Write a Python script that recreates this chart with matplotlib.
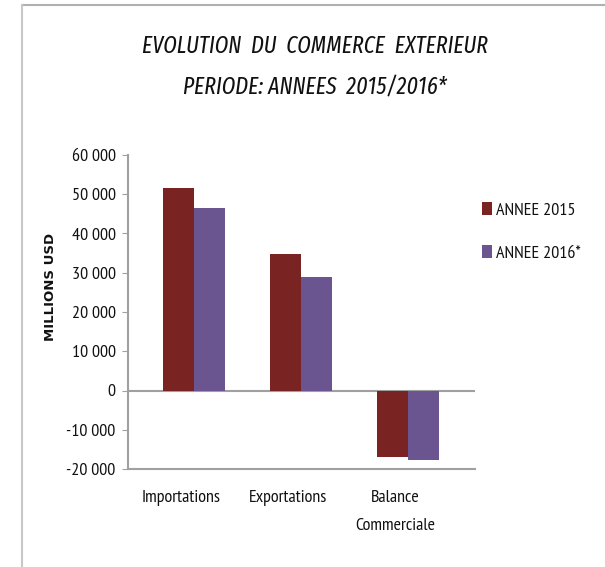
import numpy as np
import matplotlib.pyplot as plt
from matplotlib.lines import Line2D

categories = ['Importations', 'Exportations', 'Balance\nCommerciale']
annee_2015 = [51600, 34700, -16900]
annee_2016 = [46500, 28900, -17600]
series_names = ['ANNEE 2015', 'ANNEE 2016*']
y_ticks = [-20000, -10000, 0, 10000, 20000, 30000, 40000, 50000, 60000]
y_tick_labels = ['-20 000', '-10 000', '0', '10 000', '20 000', '30 000',
                 '40 000', '50 000', '60 000']

narrow = ['PT Sans Narrow', 'Carlito', 'DejaVu Sans']
title_font = ['Fira Sans Extra Condensed', 'Roboto Condensed', 'DejaVu Sans']
col_2015 = '#7a2323'
col_2016 = '#6a5590'
grey = '#a0a0a0'
ink = '#111111'

fig = plt.figure(figsize=(6.05, 5.67), dpi=100)

# frame lines around the picture (top and left)
fig.add_artist(Line2D([22 / 605, 1], [1 - 5 / 567] * 2, color='#b0b0b0', lw=1.5))
fig.add_artist(Line2D([22 / 605] * 2, [0, 1 - 5 / 567], color='#c8c8c8', lw=1.5))

ax = fig.add_axes([128 / 605, 1 - 469 / 567, 347 / 605, 314 / 567])

x = np.arange(len(categories))
w = 0.29
ax.bar(x - w / 2, annee_2015, w, color=col_2015, label=series_names[0])
ax.bar(x + w / 2, annee_2016, w, color=col_2016, label=series_names[1])

ax.set_xlim(-0.617, 2.626)
ax.set_ylim(-20000, 60000)
ax.axhline(0, color=grey, lw=1.5, zorder=0)

for s in ['top', 'right']:
    ax.spines[s].set_visible(False)
for s in ['left', 'bottom']:
    ax.spines[s].set_color(grey)
    ax.spines[s].set_linewidth(1.5)

ax.set_yticks(y_ticks)
ax.set_yticklabels(y_tick_labels, family=narrow, fontsize=13, color=ink)
ax.tick_params(axis='y', length=4, color=grey, pad=5)
# category labels sit a little left of the bar pairs, as in the original
ax.set_xticks(x - 0.12)
ax.set_xticklabels(categories, family=narrow, fontsize=13, color=ink)
for lbl in ax.get_xticklabels():
    lbl.set_linespacing(2.05)
ax.tick_params(axis='x', length=0, pad=15)

ax.set_ylabel('MILLIONS USD', family=['DejaVu Sans'],
              fontweight='bold', fontsize=9.5, color=ink)
ax.yaxis.set_label_coords(-0.205, 0.58)

fig.text(315 / 605, 1 - 46 / 567, 'EVOLUTION  DU  COMMERCE  EXTERIEUR', ha='center', va='center',
         family=title_font, style='italic', fontsize=17, color=ink)
fig.text(315 / 605, 1 - 88 / 567, 'PERIODE: ANNEES  2015/2016*', ha='center', va='center',
         family=title_font, style='italic', fontsize=17, color=ink)

leg = fig.legend(loc='upper left', bbox_to_anchor=(466 / 605, 1 - 186 / 567),
                 frameon=False, prop={'family': narrow, 'size': 13},
                 handlelength=0.55, handleheight=0.7, handletextpad=0.2,
                 labelspacing=1.45)
for t in leg.get_texts():
    t.set_color(ink)

fig.savefig('out.png', dpi=100)
